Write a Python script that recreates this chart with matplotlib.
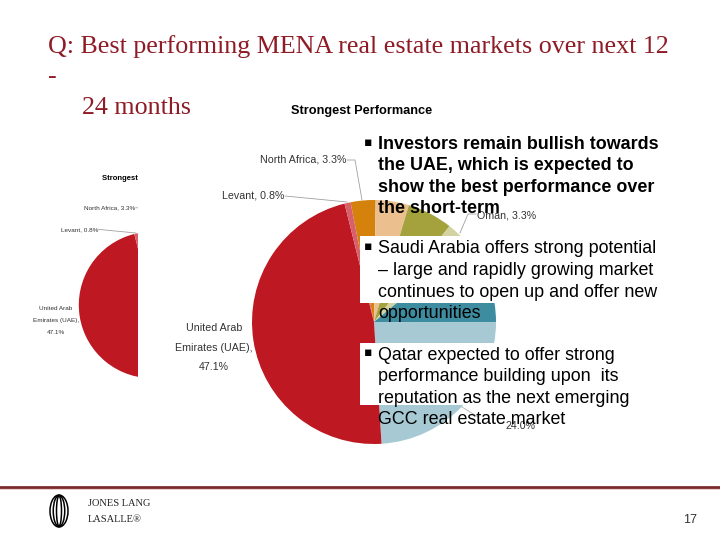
import matplotlib
matplotlib.use("Agg")
import matplotlib.pyplot as plt
from matplotlib import font_manager
from matplotlib.patches import Rectangle, Ellipse
from matplotlib.transforms import Bbox, TransformedBbox

# ---------------- data ----------------
regions = ["North Africa", "Kuwait", "Bahrain", "Oman", "Qatar", "Saudi Arabia",
           "United Arab\nEmirates (UAE)", "Levant"]
shares = [3.3, 4.4, 6.0, 3.3, 11.1, 24.0, 47.1, 0.8]
colors = ["#D4820C", "#EBC08E", "#A3A23C", "#D2D3A0", "#3E8CA0", "#A6C9D3",
          "#BE1823", "#D8606A"]
chart_title = "Strongest Performance"
slide_title = ["Q: Best performing MENA real estate markets over next 12", "-", "24 months"]
bullet1 = ["Investors remain bullish towards", "the UAE, which is expected to",
           "show the best performance over", "the short-term"]
bullet2 = ["Saudi Arabia offers strong potential", "\u2013 large and rapidly growing market",
           "continues to open up and offer new", "opportunities"]
bullet3 = ["Qatar expected to offer strong", "performance building upon  its",
           "reputation as the next emerging", "GCC real estate market"]
page_no = "17"

names = {f.name for f in font_manager.fontManager.ttflist}
NARROW = "Liberation Sans Narrow" if "Liberation Sans Narrow" in names else "Liberation Sans"
SANS = "Liberation Sans"
SERIF = "Liberation Serif"

W, H = 720, 540
fig = plt.figure(figsize=(7.2, 5.4), dpi=100)
ax = fig.add_axes([0, 0, 1, 1])


def Y(y):
    return H - y


def lbl(v):
    return f"{v:.1f}%"


def draw_chart(cx, cy, s, clip=None):
    artists = []
    wedges, _ = ax.pie(shares, colors=colors, startangle=101.1, counterclock=False,
                       center=(cx, Y(cy)), radius=122 * s,
                       wedgeprops=dict(linewidth=0))
    artists += list(wedges)
    fs = 7.7 * s
    tcol = "#333333"
    # chart title
    artists.append(ax.text(cx - 83 * s, Y(cy - 211 * s), chart_title, ha="left", va="center",
                           fontsize=9.2 * s, fontweight="bold", family=NARROW, color="black"))
    # North Africa
    i = regions.index("North Africa")
    artists.append(ax.text(cx - 28 * s, Y(cy - 162 * s), f"{regions[i]}, {lbl(shares[i])}",
                           ha="right", va="center", fontsize=fs, family=NARROW, color=tcol))
    artists += ax.plot([cx - 27 * s, cx - 19 * s, cx - 12 * s],
                       [Y(cy - 162 * s), Y(cy - 162 * s), Y(cy - 122 * s)],
                       color="#A0A0A0", lw=0.6)
    # Levant
    i = regions.index("Levant")
    artists.append(ax.text(cx - 90 * s, Y(cy - 126 * s), f"{regions[i]}, {lbl(shares[i])}",
                           ha="right", va="center", fontsize=fs, family=NARROW, color=tcol))
    artists += ax.plot([cx - 89 * s, cx - 27 * s], [Y(cy - 126 * s), Y(cy - 120 * s)],
                       color="#A0A0A0", lw=0.6)
    # UAE
    i = 6
    uae_lines = ["United Arab", "Emirates (UAE),", lbl(shares[i])]
    for t, dy in zip(uae_lines, [6, 26, 45]):
        artists.append(ax.text(cx - 160 * s, Y(cy + dy * s), t, ha="center", va="center",
                               fontsize=fs, family=NARROW, color=tcol))
    # Oman
    i = regions.index("Oman")
    artists.append(ax.text(cx + 103 * s, Y(cy - 107 * s), f"{regions[i]}, {lbl(shares[i])}",
                           ha="left", va="center", fontsize=fs, family=NARROW, color=tcol))
    artists += ax.plot([cx + 102 * s, cx + 94 * s, cx + 86 * s],
                       [Y(cy - 108 * s), Y(cy - 108 * s), Y(cy - 89 * s)],
                       color="#A0A0A0", lw=0.6)
    # Saudi Arabia share
    i = regions.index("Saudi Arabia")
    artists.append(ax.text(cx + 131 * s, Y(cy + 104 * s), lbl(shares[i]),
                           ha="left", va="center", fontsize=fs, family=NARROW, color=tcol))
    artists += ax.plot([cx + 88 * s, cx + 104 * s], [Y(cy + 85 * s), Y(cy + 95 * s)],
                       color="#B0B0B0", lw=0.6)
    if clip is not None:
        for a in artists:
            a.set_clip_on(True)
            a.set_clip_box(clip)
    return artists


# ghost (small, clipped) copy on the left
clipbox = TransformedBbox(Bbox([[0, 0], [138, H]]), ax.transData)
draw_chart(152, 305, 0.6, clip=clipbox)
# main chart
draw_chart(374, 322, 1.0)

ax.set_xlim(0, W)
ax.set_ylim(0, H)
ax.set_aspect("auto")
ax.axis("off")

# white boxes behind bullets 2 and 3
ax.add_patch(Rectangle((360, Y(303)), 340, 303 - 236, facecolor="white", edgecolor="none", zorder=3))
ax.add_patch(Rectangle((360, Y(405)), 340, 405 - 343, facecolor="white", edgecolor="none", zorder=3))

# slide title
tcol = "#8E1B25"
ax.text(48, Y(53), slide_title[0], ha="left", va="baseline", fontsize=18.7, family=SERIF, color=tcol, zorder=5)
ax.text(48, Y(83), slide_title[1], ha="left", va="baseline", fontsize=18.7, family=SERIF, color=tcol, zorder=5)
ax.text(82, Y(114), slide_title[2], ha="left", va="baseline", fontsize=18.7, family=SERIF, color=tcol, zorder=5)


def bullets(lines, ys, bold=False):
    ax.text(368, Y(ys[0] - 1), "\u25aa", ha="center", va="center", fontsize=9,
            family="DejaVu Sans", color="black", zorder=6)
    for t, y in zip(lines, ys):
        ax.text(378, Y(y + 6), t, ha="left", va="baseline", fontsize=12.9, family=SANS,
                fontweight="bold" if bold else "normal", color="black", zorder=6)


bullets(bullet1, [143, 164, 186, 207], bold=True)
bullets(bullet2, [247, 269, 291, 312])
bullets(bullet3, [354, 375, 397, 418])

# footer
ax.plot([0, W], [Y(489), Y(489)], color="#EBCFCF", lw=1.5, zorder=4)
ax.plot([0, W], [Y(487), Y(487)], color="#7B2B30", lw=2.0, zorder=4)
for w, h in [(18, 32), (11.5, 31), (5, 30)]:
    ax.add_patch(Ellipse((59, Y(511)), w, h, facecolor="none", edgecolor="black", lw=1.1, zorder=5))
ax.text(88, Y(504), "JONES LANG", ha="left", va="center", fontsize=7.5, family=SERIF, color="#222222")
ax.text(88, Y(519), "LASALLE\u00ae", ha="left", va="center", fontsize=7.5, family=SERIF, color="#222222")
ax.text(690, Y(520), page_no, ha="center", va="center", fontsize=9, family=SANS, color="#333333")

fig.savefig("out.png", dpi=100)
